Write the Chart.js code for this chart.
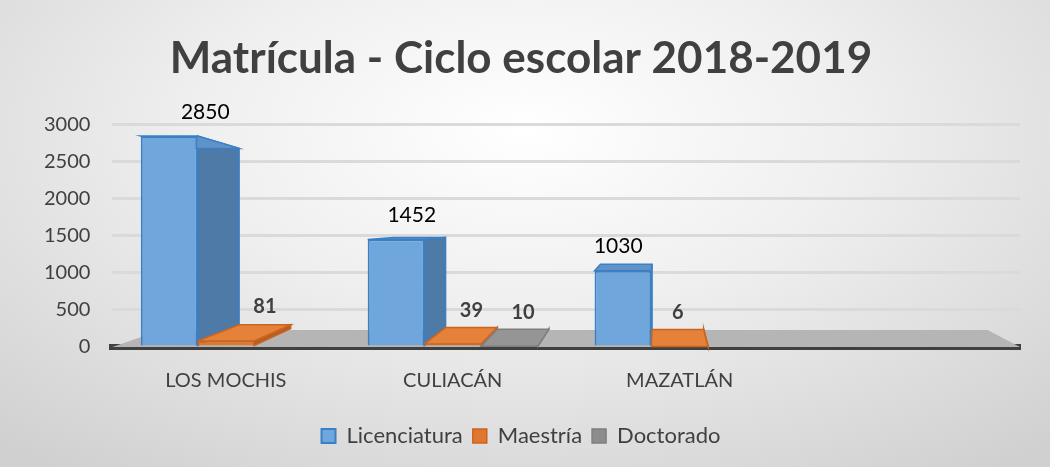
<!DOCTYPE html>
<html>
<head>
<meta charset="utf-8">
<script src="https://cdn.jsdelivr.net/npm/chart.js@4"></script>
<style>
  html, body { margin: 0; padding: 0; }
  body {
    width: 1050px; height: 467px;
    background: radial-gradient(ellipse 75% 90% at 50% 28%, #ffffff 0%, #efefef 42%, #d0d0d0 100%);
  }
  #wrap { position: relative; width: 1050px; height: 467px; }
</style>
</head>
<body>
<div id="wrap"><canvas id="matricula"></canvas></div>
<script>
// datos
const categories = ['LOS MOCHIS', 'CULIACÁN', 'MAZATLÁN', ''];
const licenciatura = [2850, 1452, 1030, null];
const maestria = [81, 39, 6, null];
const doctorado = [null, 10, null, null];
const yTicks = [0, 500, 1000, 1500, 2000, 2500, 3000];

const textColor = '#404040';

// fake 3d: point pushed back toward a vanishing point
const depth = { vx: 660, vy: 225, kx: 0.09, ky: 0.14 };
function back(x, y) {
  return [x + (depth.vx - x) * depth.kx, y + (depth.vy - y) * depth.ky];
}
function poly(ctx, pts, fill, stroke) {
  ctx.beginPath();
  ctx.moveTo(pts[0][0], pts[0][1]);
  for (let i = 1; i < pts.length; i++) ctx.lineTo(pts[i][0], pts[i][1]);
  ctx.closePath();
  ctx.fillStyle = fill;
  ctx.fill();
  if (stroke) { ctx.strokeStyle = stroke; ctx.lineWidth = 1.5; ctx.stroke(); }
}

const faceColors = [
  { side: '#4d7aa6', top: '#5f93c8', line: '#3b7fc4' },
  { side: '#b65e22', top: '#e6813a', line: '#c9651f' },
  { side: '#767676', top: '#959595', line: '#7f7f7f' }
];

const floor3d = {
  id: 'floor3d',
  beforeDatasetsDraw(chart) {
    const ctx = chart.ctx;
    const a = chart.chartArea;
    const b = chart.scales.y.getPixelForValue(0);
    ctx.save();
    poly(ctx, [[a.left, b], [a.right, b], back(a.right, b), back(a.left, b)], '#b5b5b5');
    chart.data.datasets.forEach((ds, i) => {
      const c = faceColors[i];
      chart.getDatasetMeta(i).data.forEach((el, j) => {
        if (ds.data[j] == null) return;
        const xl = el.x - el.width / 2, xr = el.x + el.width / 2;
        poly(ctx, [[xr, el.y], back(xr, el.y), back(xr, el.base), [xr, el.base]], c.side, c.line);
        poly(ctx, [[xl, el.y], [xr, el.y], back(xr, el.y), back(xl, el.y)], c.top, c.line);
      });
    });
    ctx.restore();
  }
};

const valueLabels = {
  id: 'valueLabels',
  afterDatasetsDraw(chart) {
    const ctx = chart.ctx;
    ctx.save();
    ctx.textAlign = 'center';
    ctx.textBaseline = 'middle';
    chart.data.datasets.forEach((ds, i) => {
      chart.getDatasetMeta(i).data.forEach((el, j) => {
        const v = ds.data[j];
        if (v == null) return;
        const bx = back(el.x, el.y)[0];
        if (i === 0) {
          ctx.font = '21px Lato';
          ctx.fillStyle = '#000';
          ctx.fillText(v, bx - 8, el.y - 24);
        } else {
          ctx.font = 'bold 20px Lato';
          ctx.fillStyle = textColor;
          ctx.fillText(v, bx, el.y - 34);
        }
      });
    });
    ctx.restore();
  }
};

new Chart(document.getElementById('matricula'), {
  type: 'bar',
  data: {
    labels: categories,
    datasets: [
      { label: 'Licenciatura', data: licenciatura, backgroundColor: '#6fa7dc', borderColor: '#3b7fc4', borderWidth: 2 },
      { label: 'Maestría', data: maestria, backgroundColor: '#e0772e', borderColor: '#c9651f', borderWidth: 1.5 },
      { label: 'Doctorado', data: doctorado, backgroundColor: '#8c8c8c', borderColor: '#7f7f7f', borderWidth: 1.5 }
    ]
  },
  options: {
    responsive: true,
    maintainAspectRatio: false,
    animation: false,
    layout: { padding: { top: 10, left: 22, right: 30, bottom: 10 } },
    categoryPercentage: 0.75,
    barPercentage: 1.0,
    scales: {
      x: {
        grid: { display: false, drawTicks: false },
        border: { display: true, color: '#404040', width: 6 },
        ticks: { color: textColor, font: { family: 'Lato', size: 20 }, padding: 22 }
      },
      y: {
        min: 0,
        max: 3000,
        afterBuildTicks(scale) { scale.ticks = yTicks.map(v => ({ value: v })); },
        grid: { color: '#dadada', lineWidth: 3, drawTicks: false },
        border: { display: false },
        ticks: {
          color: textColor,
          font: { family: 'Lato', size: 20 },
          padding: 22,
          callback: v => String(v)
        }
      }
    },
    plugins: {
      title: {
        display: true,
        text: 'Matrícula - Ciclo escolar 2018-2019',
        color: textColor,
        font: { family: 'Lato', size: 44, weight: 'bold' },
        padding: { top: 22, bottom: 40 }
      },
      legend: {
        position: 'bottom',
        labels: {
          color: textColor,
          font: { family: 'Lato', size: 22 },
          boxWidth: 14,
          boxHeight: 14,
          padding: 10
        }
      },
      tooltip: { enabled: false }
    }
  },
  plugins: [floor3d, valueLabels]
});
</script>
</body>
</html>
